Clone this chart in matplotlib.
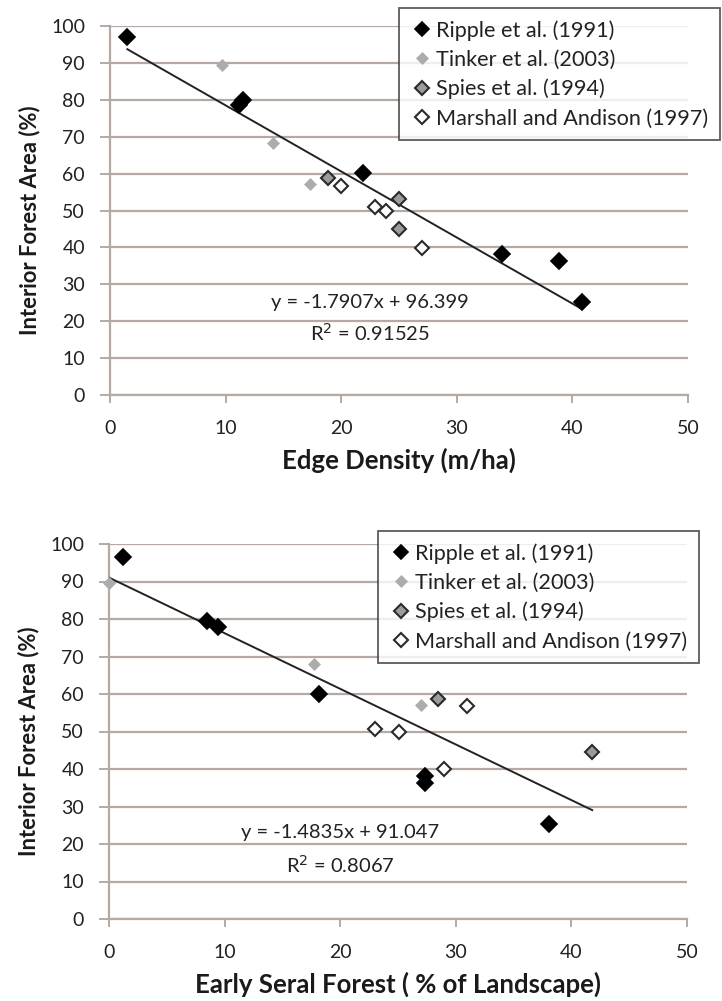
import matplotlib
matplotlib.use("Agg")
import matplotlib.pyplot as plt
import numpy as np

plt.rcParams['font.family'] = ['Lato', 'DejaVu Sans']

# ---------------- data: top panel (Edge density) ----------------
top_ripple_x = [1.5, 11.5, 11.2, 21.9, 33.9, 38.8, 40.8]
top_ripple_y = [97.0, 80.0, 78.5, 60.2, 38.2, 36.3, 25.3]
top_tinker_x = [9.7, 14.1, 17.3]
top_tinker_y = [89.5, 68.2, 57.2]
top_spies_x = [18.9, 25.0, 25.0]
top_spies_y = [58.7, 53.1, 45.0]
top_marshall_x = [20.0, 22.9, 23.9, 27.0]
top_marshall_y = [56.7, 51.0, 49.9, 39.8]
top_slope, top_intercept, top_r2 = -1.7907, 96.399, "0.91525"

# ---------------- data: bottom panel (Early seral) ----------------
bot_ripple_x = [1.2, 8.5, 9.4, 18.2, 27.3, 27.3, 38.1]
bot_ripple_y = [96.6, 79.4, 77.9, 60.1, 38.1, 36.3, 25.4]
bot_tinker_x = [0.0, 17.7, 27.0]
bot_tinker_y = [89.7, 68.0, 57.0]
bot_spies_x = [28.5, 41.8]
bot_spies_y = [58.8, 44.6]
bot_marshall_x = [23.0, 25.1, 29.0, 31.0]
bot_marshall_y = [50.7, 49.9, 40.1, 56.7]
bot_slope, bot_intercept, bot_r2 = -1.4835, 91.047, "0.8067"

series_labels = ["Ripple et al. (1991)", "Tinker et al. (2003)",
                 "Spies et al. (1994)", "Marshall and Andison (1997)"]
x_ticks = [0, 10, 20, 30, 40, 50]
y_ticks = [0, 10, 20, 30, 40, 50, 60, 70, 80, 90, 100]

styles = [
    dict(marker='D', ms=8, mfc='black', mec='black', mew=1.2),
    dict(marker='D', ms=6.5, mfc='#acacac', mec='#acacac', mew=0.5),
    dict(marker='D', ms=7.2, mfc='#9c9c9c', mec='#2a2a2a', mew=1.5),
    dict(marker='D', ms=7.2, mfc='white', mec='#2a2a2a', mew=1.5),
]

W, H = 722, 1001
fig = plt.figure(figsize=(W / 100, H / 100), dpi=100)
fig.patch.set_facecolor('white')

grid_c = '#b5aaa3'
text_c = '#222222'


def px_axes(left, right, top, bottom):
    return fig.add_axes([left / W, 1 - bottom / H, (right - left) / W, (bottom - top) / H])


def panel(ax, xs, slope, intercept, r2, xlabel, eq_pos, leg_anchor, leg_loc):
    ax.set_xlim(0, 50)
    ax.set_ylim(0, 100)
    ax.set_xticks(x_ticks)
    ax.set_yticks(y_ticks)
    ax.yaxis.grid(True, color=grid_c, lw=1.6)
    ax.set_axisbelow(True)
    for s in ['top', 'right']:
        ax.spines[s].set_visible(False)
    for s in ['left', 'bottom']:
        ax.spines[s].set_color(grid_c)
        ax.spines[s].set_linewidth(1.6)
    ax.tick_params(axis='both', colors=grid_c, width=1.4,
                   labelcolor=text_c, labelsize=14)
    ax.tick_params(axis='x', length=6, pad=12)
    ax.tick_params(axis='y', length=7, pad=11)
    ax.set_xlabel(xlabel, fontsize=18.5, fontweight='bold', color='#1a1a1a', labelpad=8)
    ax.set_ylabel("Interior Forest Area (%)", fontsize=15.8, fontweight='bold',
                  color='#1a1a1a')
    ax.yaxis.set_label_coords(-0.121, 0.475)
    allx = np.concatenate([np.asarray(v, float) for v in xs[::2]])
    xl = np.array([allx.min(), allx.max()])
    ax.plot(xl, slope * xl + intercept, color=text_c, lw=1.4, zorder=3)
    handles = []
    for i in range(4):
        h, = ax.plot(xs[2 * i], xs[2 * i + 1], ls='none', label=series_labels[i],
                     clip_on=False, zorder=4, **styles[i])
        handles.append(h)
    ax.text(eq_pos[0], eq_pos[1], f"y = {slope}x + {intercept}", ha='center', va='center',
            fontsize=14.5, color=text_c)
    ax.text(eq_pos[0], eq_pos[2], f"R$^2$ = {r2}", ha='center', va='center',
            fontsize=14.5, color=text_c)
    leg = ax.legend(handles=handles, loc=leg_loc, bbox_to_anchor=leg_anchor,
                    bbox_transform=fig.transFigure, frameon=True, fancybox=False,
                    edgecolor='#333333', fontsize=15.6, handletextpad=0.15,
                    handlelength=1.0, labelspacing=0.42, borderpad=0.55,
                    borderaxespad=0, markerscale=0.95)
    leg.get_frame().set_linewidth(1.3)
    for t in leg.get_texts():
        t.set_color(text_c)


ax1 = px_axes(110, 688, 26, 395)
panel(ax1,
      [top_ripple_x, top_ripple_y, top_tinker_x, top_tinker_y,
       top_spies_x, top_spies_y, top_marshall_x, top_marshall_y],
      top_slope, top_intercept, top_r2, "Edge Density (m/ha)",
      (22.5, 25.2, 16.8), (720 / W, 1 - 8 / H), 'upper right')

ax2 = px_axes(109, 687, 544, 919)
panel(ax2,
      [bot_ripple_x, bot_ripple_y, bot_tinker_x, bot_tinker_y,
       bot_spies_x, bot_spies_y, bot_marshall_x, bot_marshall_y],
      bot_slope, bot_intercept, bot_r2, "Early Seral Forest ( % of Landscape)",
      (20.0, 23.1, 14.5), (378 / W, 1 - 531 / H), 'upper left')

fig.savefig("out.png", dpi=100, facecolor='white')
